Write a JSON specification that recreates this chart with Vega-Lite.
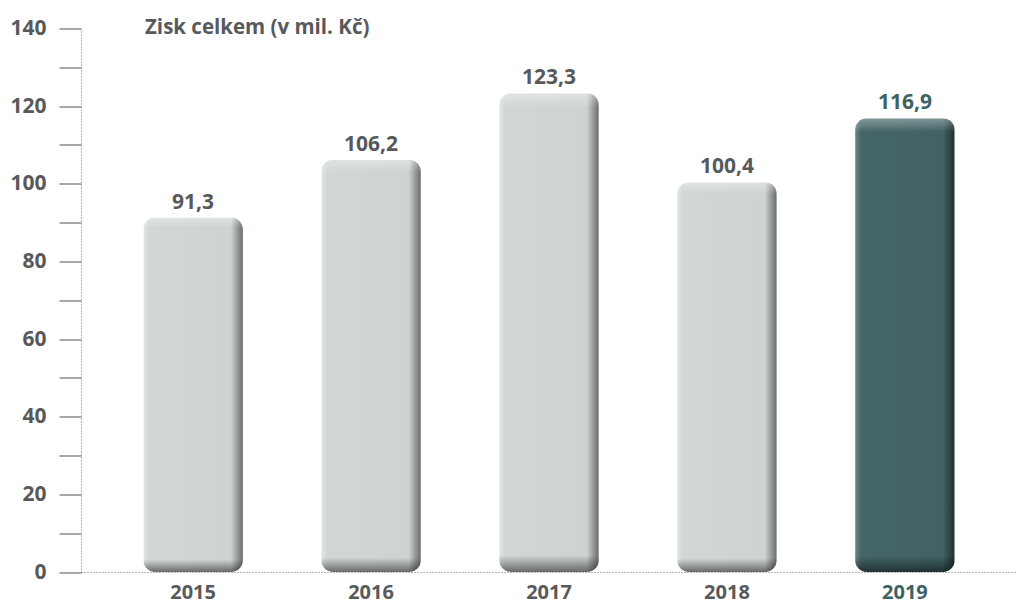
{
  "$schema": "https://vega.github.io/schema/vega-lite/v6.json",
  "width": 936,
  "height": 543.5,
  "autosize": "none",
  "padding": {"left": 81, "top": 28.5, "right": 0, "bottom": 33},
  "config": {
    "locale": {"number": {"decimal": ",", "thousands": " ", "grouping": [3], "currency": ["", " Kč"]}},
    "view": {"stroke": null},
    "font": "Open Sans"
  },
  "title": {
    "text": "Zisk celkem (v mil. Kč)",
    "anchor": "start",
    "frame": "group",
    "orient": "top",
    "offset": -31,
    "dx": 64,
    "baseline": "middle",
    "fontSize": 20.5,
    "font": "Open Sans",
    "fontWeight": "bold",
    "color": "#58595b"
  },
  "data": {
    "values": [
      {"year": "2015", "value": 91.3},
      {"year": "2016", "value": 106.2},
      {"year": "2017", "value": 123.3},
      {"year": "2018", "value": 100.4},
      {"year": "2019", "value": 116.9}
    ]
  },
  "encoding": {
    "x": {
      "field": "year",
      "type": "ordinal",
      "scale": {"paddingInner": 0.44, "paddingOuter": 0.35},
      "axis": {
        "title": null,
        "labelAngle": 0,
        "ticks": false,
        "domainColor": "#6d6e71",
        "domainDash": [1, 2],
        "domainWidth": 1,
        "labelFont": "Open Sans",
        "labelFontWeight": "bold",
        "labelFontSize": 20,
        "labelPadding": 10.5,
        "labelColor": {"condition": {"test": "datum.value == '2019'", "value": "#3d6164"}, "value": "#58595b"}
      }
    },
    "y": {
      "field": "value",
      "type": "quantitative",
      "scale": {"domain": [0, 140], "nice": false},
      "axis": {
        "title": null,
        "grid": false,
        "values": [0, 10, 20, 30, 40, 50, 60, 70, 80, 90, 100, 110, 120, 130, 140],
        "labelExpr": "datum.value % 20 == 0 ? datum.label : ''",
        "tickSize": 22,
        "tickColor": "#6d6e71",
        "tickWidth": 1.2,
        "domainColor": "#6d6e71",
        "domainDash": [1, 2],
        "domainWidth": 1,
        "labelFont": "Open Sans",
        "labelFontWeight": "bold",
        "labelFontSize": 21,
        "labelColor": "#58595b",
        "labelPadding": 13
      }
    }
  },
  "layer": [
    {
      "mark": {"type": "bar", "cornerRadius": 12},
      "encoding": {
        "color": {
          "condition": {
            "test": "datum.year == '2019'",
            "value": {"gradient": "linear", "x1": 0, "x2": 1, "y1": 0, "y2": 0,
              "stops": [
                {"offset": 0, "color": "#6d8a8b"},
                {"offset": 0.06, "color": "#456668"},
                {"offset": 0.88, "color": "#416163"},
                {"offset": 0.96, "color": "#2a4041"},
                {"offset": 1, "color": "#1e2e2f"}
              ]}
          },
          "value": {"gradient": "linear", "x1": 0, "x2": 1, "y1": 0, "y2": 0,
            "stops": [
              {"offset": 0, "color": "#e2e5e5"},
              {"offset": 0.06, "color": "#d2d6d6"},
              {"offset": 0.88, "color": "#ced2d2"},
              {"offset": 0.96, "color": "#8a8d8e"},
              {"offset": 1, "color": "#6a6c6e"}
            ]}
        }
      }
    },
    {
      "mark": {
        "type": "bar",
        "cornerRadius": 12,
        "fill": {"gradient": "linear", "x1": 0, "x2": 0, "y1": 0, "y2": 1,
          "stops": [
            {"offset": 0, "color": "rgba(255,255,255,0.35)"},
            {"offset": 0.03, "color": "rgba(255,255,255,0)"},
            {"offset": 0.965, "color": "rgba(0,0,0,0)"},
            {"offset": 1, "color": "rgba(0,0,0,0.5)"}
          ]}
      }
    },
    {
      "mark": {"type": "text", "baseline": "alphabetic", "dy": -9, "font": "Open Sans", "fontWeight": "bold", "fontSize": 21},
      "encoding": {
        "text": {"field": "value", "type": "quantitative", "format": ".1f"},
        "color": {"condition": {"test": "datum.year == '2019'", "value": "#3d6164"}, "value": "#58595b"}
      }
    }
  ]
}
